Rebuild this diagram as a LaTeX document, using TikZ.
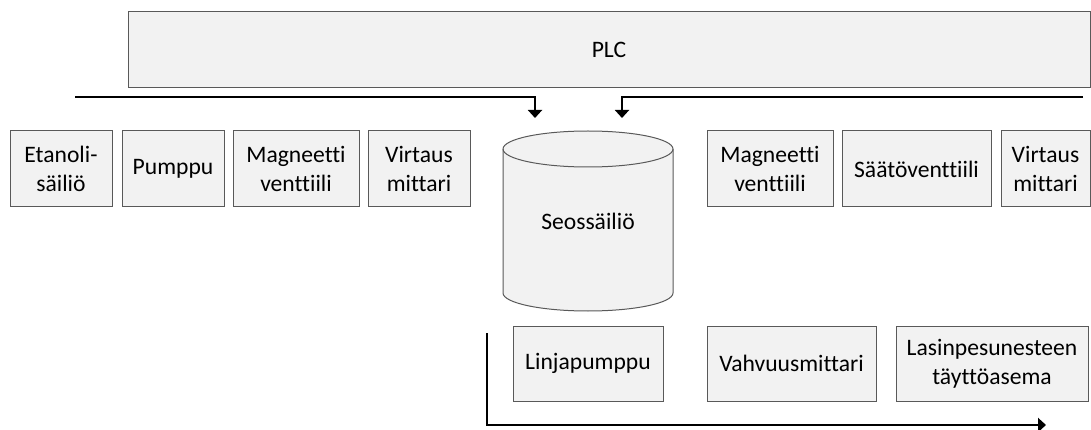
\documentclass[tikz,border=0pt]{standalone}
\usepackage{fontspec}
\setmainfont{Carlito}[Ligatures={NoCommon}]
\usepackage{tikz}
\usetikzlibrary{arrows.meta}
\definecolor{boxfill}{HTML}{F2F2F2}
\definecolor{boxline}{HTML}{595959}

\begin{document}
\begin{tikzpicture}[x=1pt,y=-1pt,
		unit/.style={draw=boxline, fill=boxfill, line width=1pt, align=center, inner sep=2pt,
			minimum height=76pt, font=\fontsize{23.6}{29}\selectfont},
		flow/.style={line width=2pt, -{Triangle[width=14pt,length=8pt]}}]
		\useasboundingbox (0,0) rectangle (1091,430);
		\node[unit, minimum width=962pt] (plc) at (609,50) {PLC};
		\node[unit, minimum width=102pt] (etanoli) at (61,169) {Etanoli-\\säiliö};
		\node[unit, minimum width=102pt] (pumppu) at (173,169) {Pumppu};
		\node[unit, minimum width=126pt] (magneetti1) at (296,169) {Magneetti\\venttiili};
		\node[unit, minimum width=102pt] (virtaus1) at (419,169) {Virtaus\\mittari};
		\node[unit, minimum width=126pt] (magneetti2) at (770,169) {Magneetti\\venttiili};
		\node[unit, minimum width=149pt] (saato) at (916.5,169) {Säätöventtiili};
		\node[unit, minimum width=89pt] (virtaus2) at (1045.5,169) {Virtaus\\mittari};
		\node[unit, minimum width=150pt, minimum height=75pt] (linja) at (588,363.5) {Linjapumppu};
		\node[unit, minimum width=169pt, minimum height=75pt] (vahvuus) at (791.5,363.5) {Vahvuusmittari};
		\node[unit, minimum width=192pt, minimum height=75pt] (lasin) at (992,363.5) {Lasinpesunesteen\\täyttöasema};
		\draw[boxline, fill=boxfill, line width=1pt] (503,149) -- (503,293)
			arc[start angle=180, end angle=0, x radius=85, y radius=18] -- (673,149)
			arc[start angle=360, end angle=180, x radius=85, y radius=18] -- cycle;
		\draw[boxline, line width=1pt] (503,149) arc[start angle=180, end angle=0, x radius=85, y radius=18];
		\node[font=\fontsize{23.6}{29}\selectfont] (seos) at (588,221) {Seossäiliö};
		\coordinate (busL) at (75,97);
		\coordinate (inL) at (535,118);
		\coordinate (busR) at (1083,97);
		\coordinate (inR) at (622,118);
		\coordinate (outS) at (487,333);
		\coordinate (outE) at (1046,425);
		\draw[flow] (busL) -| (inL);
		\draw[flow] (busR) -| (inR);
		\draw[flow] (outS) |- (outE);
	\end{tikzpicture}
\end{document}
